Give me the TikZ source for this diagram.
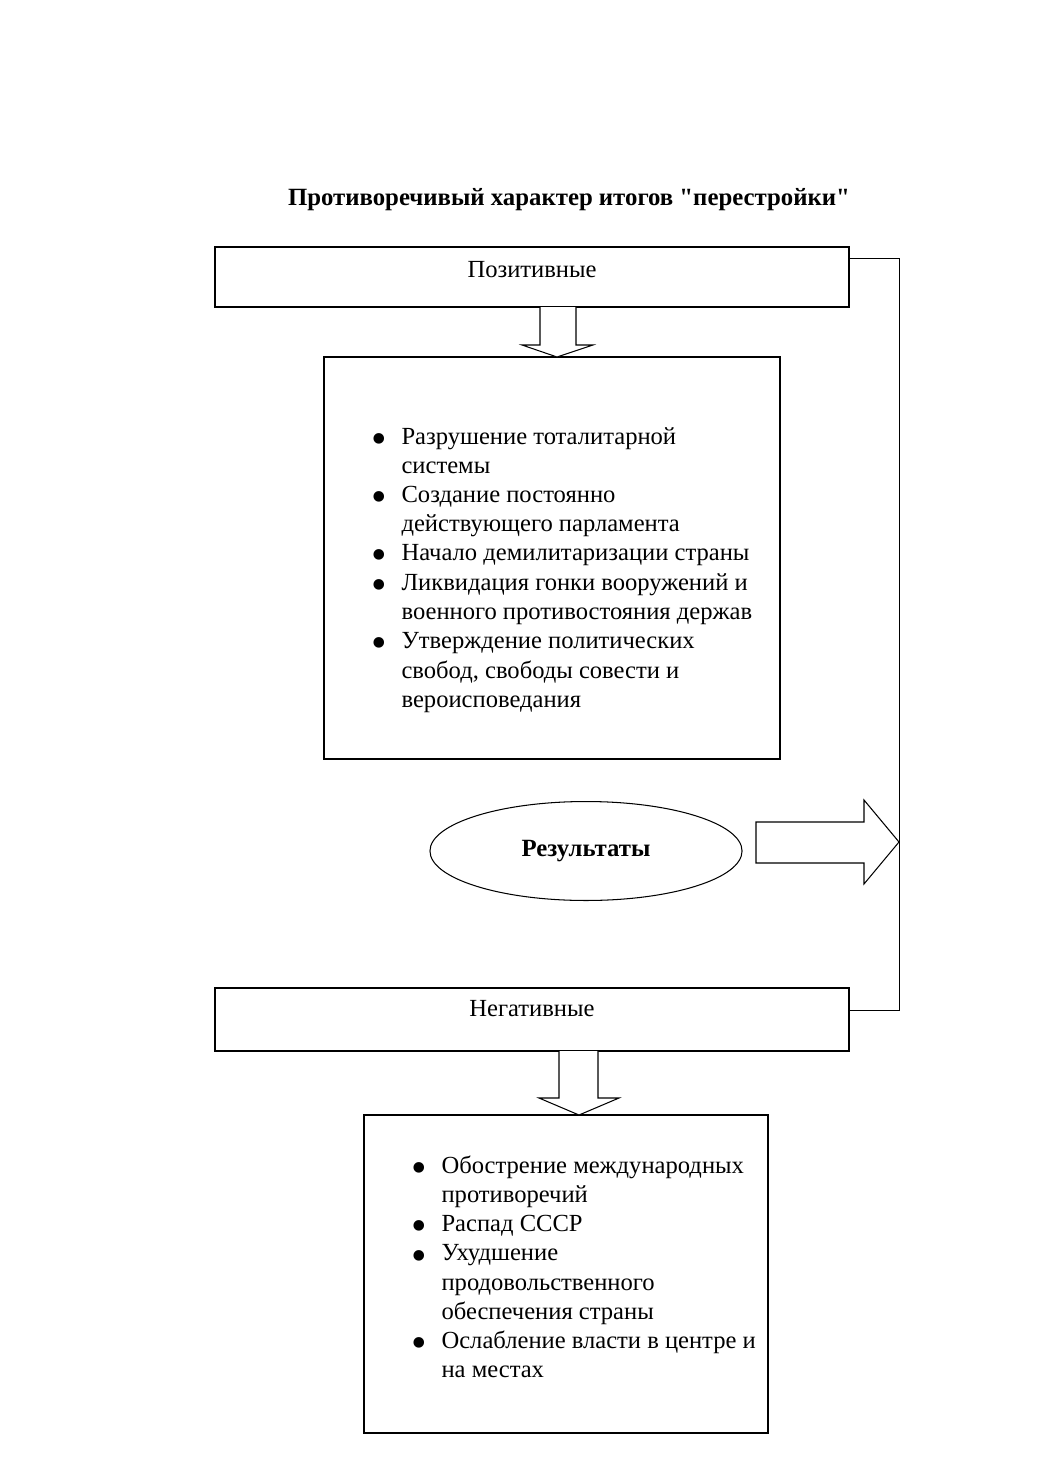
\documentclass[tikz,border=0pt]{standalone}
\usepackage{fontspec}
\setmainfont{Liberation Serif}[Ligatures=TeXOff]
\usetikzlibrary{fit,shapes.geometric,calc}
\newcommand\mybul{\makebox[14.9pt][l]{\hspace*{0.5pt}\raisebox{-4.4pt}{\scalebox{1.8}{•}}}}
\begin{document}
\begin{tikzpicture}[x=0.48pt,y=-0.48pt, line width=0.5pt,
  box/.style={draw, rectangle, inner sep=0pt},
  lbl/.style={anchor=base, inner sep=0pt, font=\fontsize{11.8}{13.9}\selectfont},
  listtext/.style={anchor=base west, inner sep=0pt, font=\fontsize{11.8}{13.9}\selectfont},
  blockarrow/.style={draw, fill=white, line join=miter}]
\useasboundingbox (0,0) rectangle (1040,1473);

\node[lbl, font=\fontsize{11.9}{13.9}\selectfont\bfseries] (title) at (569,206) {Противоречивый характер итогов "перестройки"};

% Positive
\node[box, fit={(215,247)(849,307)}] (pos) {};
\node[lbl] (postext) at (532,277) {Позитивные};
\node[box, fit={(324,357)(780,759)}] (plist) {};
\draw[blockarrow] (540,307) -- (540,345) -- (522,345) -- (557,357) -- (593,345) -- (576,345) -- (576,307);
\node[listtext] (ptext) at (370,444) {\begin{tabular}[t]{@{}l@{}l@{}}
\mybul & Разрушение тоталитарной\\
 & системы\\
\mybul & Создание постоянно\\
 & действующего парламента\\
\mybul & Начало демилитаризации страны\\
\mybul & Ликвидация гонки вооружений и\\
 & военного противостояния держав\\
\mybul & Утверждение политических\\
 & свобод, свободы совести и\\
 & вероисповедания
\end{tabular}};

% Result
\node[draw, ellipse, minimum width=149.8pt, minimum height=47.5pt, inner sep=0pt,
      font=\fontsize{11.9}{13.9}\selectfont\bfseries] (res) at (586,851) {Результаты};
\draw[blockarrow] (756,822) -- (864,822) -- (864,800) -- (899,842) -- (864,884) -- (864,863) -- (756,863) -- cycle;

% Negative
\node[box, fit={(215,988)(849,1051)}] (neg) {};
\node[lbl] (negtext) at (532,1016) {Негативные};
\node[box, fit={(364,1115)(768,1433)}] (nlist) {};
\draw[blockarrow] (559,1051) -- (559,1098) -- (539,1098) -- (579,1115) -- (619,1098) -- (598,1098) -- (598,1051);
\node[listtext] (ntext) at (410,1173) {\begin{tabular}[t]{@{}l@{}l@{}}
\mybul & Обострение международных\\
 & противоречий\\
\mybul & Распад СССР\\
\mybul & Ухудшение\\
 & продовольственного\\
 & обеспечения страны\\
\mybul & Ослабление власти в центре и\\
 & на местах
\end{tabular}};

% Connector
\coordinate (c1) at ($(pos.north east)+(0,12)$);
\coordinate (c2) at ($(neg.north east)+(0,23)$);
\draw (c1) -- ++(50,0) |- (c2);
\end{tikzpicture}
\end{document}
